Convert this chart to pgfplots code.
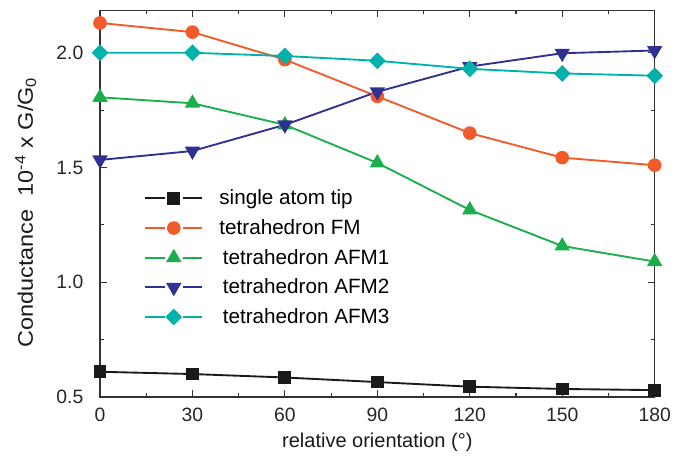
\documentclass[border=0pt]{standalone}
\usepackage{pgfplots}
\pgfplotsset{compat=1.18}
\usepackage{graphicx}
\usepackage{fontspec}
\setmainfont{Liberation Sans}

\definecolor{cblack}{HTML}{1A1A1A}
\definecolor{cred}{HTML}{F15A29}
\definecolor{cgreen}{HTML}{1AAF4B}
\definecolor{cblue}{HTML}{2E3192}
\definecolor{ccyan}{HTML}{00B2A9}

\begin{document}
\begin{tikzpicture}
\begin{axis}[
    width=416pt, height=290pt,
    scale only axis,
    xmin=0, xmax=180,
    ymin=0.5, ymax=2.185,
    xtick={0,30,...,180},
    ytick={0.5,1.0,1.5,2.0},
    minor xtick={15,45,...,165},
    minor ytick={0.75,1.25,1.75},
    yticklabel style={/pgf/number format/fixed,/pgf/number format/fixed zerofill,/pgf/number format/precision=1, xshift=-9pt},
    xticklabel style={yshift=-5pt},
    /pgf/number format/assume math mode=true,
    tick align=inside,
    major tick length=5pt,
    minor tick length=3pt,
    axis line style={black!80, line width=1pt},
    every tick/.style={black!80, line width=0.9pt},
    tick label style={font=\fontsize{14.5}{17}\selectfont, text=black!85},
    xlabel={relative orientation (°)},
    ylabel={\scalebox{1}[0.9]{Conductance\ \ 10\textsuperscript{-4} x G/G\textsubscript{0}}},
    every axis x label/.style={at={(rel axis cs:0.5,-0.118)}, anchor=center,
        font=\fontsize{15}{17}\selectfont, text=black!90},
    every axis y label/.style={at={(rel axis cs:-0.134,0.477)}, anchor=center, rotate=90,
        font=\fontsize{17.6}{19}\selectfont, text=black!90},
    clip=false,
    legend cell align=left,
    legend style={
        at={(0.072,0.55)}, anchor=north west,
        draw=none, fill=none,
        font=\fontsize{15.5}{18}\selectfont,
        row sep=5.5pt,
        /tikz/every odd column/.append style={column sep=10pt},
    },
    legend image code/.code={
        \draw[#1, mark=none] (0pt,0pt) -- (15pt,0pt);
        \draw[#1, mark=none] (28.5pt,0pt) -- (43pt,0pt);
        \draw[#1, only marks] plot coordinates {(21.5pt,0pt)};
    },
    every axis plot/.append style={line width=1.4pt, mark options={solid, line width=0.5pt}},
]

\addplot[color=cblack, mark=square*, mark size=4.1pt, mark options={fill=cblack}] coordinates {
    (0,0.61) (30,0.60) (60,0.585) (90,0.565) (120,0.545) (150,0.535) (180,0.53)
};
\addlegendentry{single atom tip}

\addplot[color=cred, mark=*, mark size=4.4pt, mark options={fill=cred}] coordinates {
    (0,2.13) (30,2.09) (60,1.97) (90,1.81) (120,1.65) (150,1.543) (180,1.51)
};
\addlegendentry{tetrahedron FM}

\addplot[color=cgreen, mark=triangle*, mark size=5.3pt, mark options={fill=cgreen}] coordinates {
    (0,1.806) (30,1.78) (60,1.686) (90,1.52) (120,1.315) (150,1.158) (180,1.09)
};
\addlegendentry{\,tetrahedron AFM1}

\addplot[color=cblue, mark=triangle*, mark size=5.3pt, mark options={fill=cblue, rotate=180}] coordinates {
    (0,1.533) (30,1.572) (60,1.686) (90,1.83) (120,1.94) (150,1.998) (180,2.01)
};
\addlegendentry{\,tetrahedron AFM2}

\addplot[color=ccyan, mark=square*, mark size=3.75pt, mark options={fill=ccyan, rotate=45}] coordinates {
    (0,2.0) (30,2.0) (60,1.986) (90,1.965) (120,1.93) (150,1.91) (180,1.90)
};
\addlegendentry{\,tetrahedron AFM3}

\end{axis}
\pgfresetboundingbox
\path (-75pt,-46.5pt) rectangle (441pt,297.75pt);
\end{tikzpicture}
\end{document}
